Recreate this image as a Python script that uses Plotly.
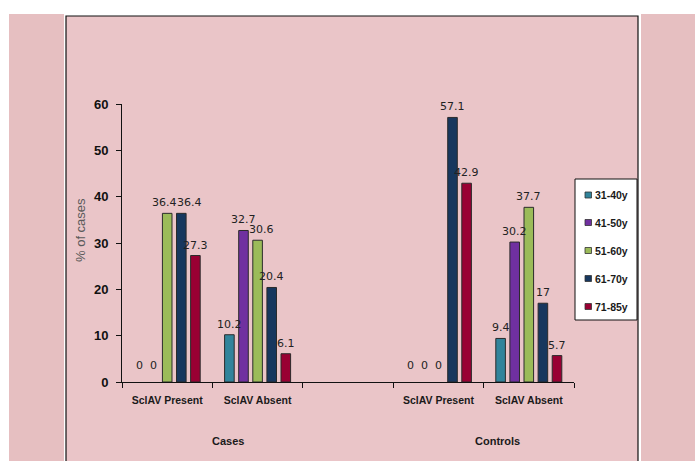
import plotly.graph_objects as go

# Age-group distribution (% of cases) by SclAV status, cases vs controls
categories = ["SclAV Present", "SclAV Absent", "SclAV Present", "SclAV Absent"]
category_pos = [0, 1, 3, 4]          # slot 2 is left empty between the two groups
group_labels = ["Cases", "Controls"]

age_groups = ["31-40y", "41-50y", "51-60y", "61-70y", "71-85y"]
v_31_40 = [0, 10.2, 0, 9.4]
v_41_50 = [0, 32.7, 0, 30.2]
v_51_60 = [36.4, 30.6, 0, 37.7]
v_61_70 = [36.4, 20.4, 57.1, 17]
v_71_85 = [27.3, 6.1, 42.9, 5.7]
series = [v_31_40, v_41_50, v_51_60, v_61_70, v_71_85]

colors = ["#31849B", "#7030A0", "#9BBB59", "#17375E", "#990033"]

W, H = 695, 461
L, R, T, B = 122, 121, 104, 79
PW, PH = W - L - R, H - T - B

BARGAP = 0.22
N = len(series)


def fx(px):
    return (px - L) / PW


def fy(py):
    return (H - B - py) / PH


AXIS_FONT = "Liberation Sans, Arial, sans-serif"
LABEL_FONT = "DejaVu Sans, Verdana, sans-serif"

fig = go.Figure()
for name, vals, col in zip(age_groups, series, colors):
    fig.add_trace(go.Bar(
        name=name,
        x=category_pos,
        y=vals,
        marker=dict(color=col,
                    line=dict(color="#2b2b2b", width=[0 if v == 0 else 1 for v in vals])),
        showlegend=False,
        hoverinfo="x+y+name",
    ))

# value labels above each bar; a few are nudged sideways so neighbours don't collide
label_nudge = {(2, 0): -3, (3, 0): 8, (2, 1): 4}
slot = (1 - BARGAP) / N
annotations = []
for i, vals in enumerate(series):
    for j, (pos, v) in enumerate(zip(category_pos, vals)):
        annotations.append(dict(
            text=f"{v:g}", x=pos + (i - (N - 1) / 2) * slot, y=v,
            xref="x", yref="y", xanchor="center", yanchor="bottom",
            xshift=label_nudge.get((i, j), 0), yshift=8 if v == 0 else 2,
            showarrow=False,
            font=dict(family=LABEL_FONT, size=11, color="#222222"),
        ))

shapes = [
    # side panels
    dict(type="rect", xref="paper", yref="paper", x0=fx(9), x1=fx(64), y0=fy(475), y1=fy(14),
         fillcolor="#e6bfc1", line=dict(width=0), layer="below"),
    dict(type="rect", xref="paper", yref="paper", x0=fx(641), x1=fx(705), y0=fy(475), y1=fy(14),
         fillcolor="#e6bfc1", line=dict(width=0), layer="below"),
    # chart frame
    dict(type="rect", xref="paper", yref="paper", x0=fx(66), x1=fx(638), y0=fy(475), y1=fy(16),
         fillcolor="#eac5c8", line=dict(color="#111111", width=1.2), layer="below"),
    # legend box
    dict(type="rect", xref="paper", yref="paper", x0=fx(575), x1=fx(637), y0=fy(320), y1=fy(179),
         fillcolor="#ffffff", line=dict(color="#111111", width=1), layer="above"),
]

annotations += [
    dict(text="% of cases", x=fx(80), y=fy(230), xref="paper", yref="paper", textangle=-90,
         xanchor="center", yanchor="middle", showarrow=False,
         font=dict(family=AXIS_FONT, size=13, color="#5a5a5a")),
    dict(text=group_labels[0], x=fx(228), y=fy(441), xref="paper", yref="paper",
         xanchor="center", yanchor="middle", showarrow=False,
         font=dict(family=AXIS_FONT, size=11, color="#1a1a1a", weight="bold")),
    dict(text=group_labels[1], x=fx(497), y=fy(441), xref="paper", yref="paper",
         xanchor="center", yanchor="middle", showarrow=False,
         font=dict(family=AXIS_FONT, size=11, color="#1a1a1a", weight="bold")),
]

# legend entries
legend_y = [195, 222.5, 250.5, 278.5, 306.5]
for name, col, ly in zip(age_groups, colors, legend_y):
    shapes.append(dict(type="rect", xref="paper", yref="paper", x0=fx(585), x1=fx(591.5),
                       y0=fy(ly + 3), y1=fy(ly - 3), fillcolor=col,
                       line=dict(color="#333333", width=0.8), layer="above"))
    annotations.append(dict(text=name, x=fx(593), y=fy(ly), xref="paper", yref="paper",
                            xanchor="left", yanchor="middle", showarrow=False,
                            font=dict(family=AXIS_FONT, size=10.5, color="#1a1a1a", weight="bold")))

fig.update_layout(
    width=W, height=H,
    margin=dict(l=L, r=R, t=T, b=B, pad=0),
    paper_bgcolor="#ffffff",
    plot_bgcolor="rgba(0,0,0,0)",
    barmode="group",
    bargap=BARGAP,
    bargroupgap=0.32,
    shapes=shapes,
    annotations=annotations,
    xaxis=dict(
        range=[-0.5, 4.5],
        tickmode="array", tickvals=category_pos, ticktext=categories,
        ticks="", showgrid=False, zeroline=False,
        showline=True, linecolor="#111111", linewidth=1,
        tickfont=dict(family=AXIS_FONT, size=10.5, color="#1a1a1a", weight="bold"),
        ticklabelstandoff=8,
        minor=dict(tickmode="array", tickvals=[-0.5, 0.5, 1.5, 2.5, 3.5, 4.5],
                   ticks="outside", ticklen=5, tickcolor="#111111", tickwidth=1, showgrid=False),
    ),
    yaxis=dict(
        range=[0, 60], dtick=10, tick0=0,
        ticks="outside", ticklen=5, tickcolor="#111111", tickwidth=1,
        showgrid=False, zeroline=False,
        showline=True, linecolor="#111111", linewidth=1,
        tickfont=dict(family=AXIS_FONT, size=13, color="#111111", weight="bold"),
        ticklabelstandoff=5,
    ),
)

fig.write_html("out.html")
